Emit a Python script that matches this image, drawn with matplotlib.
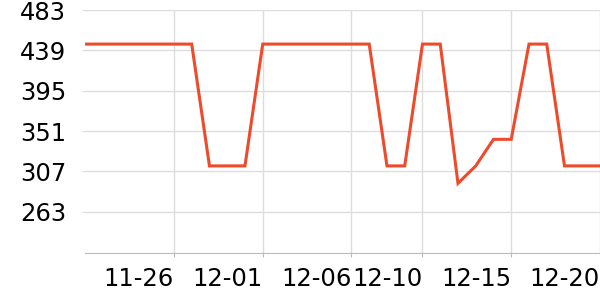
import matplotlib
matplotlib.use("Agg")
import matplotlib.pyplot as plt
import pandas as pd

# daily values 11-21 .. 12-20
dates = pd.date_range("2023-11-21", "2023-12-20", freq="D")
values = [446, 446, 446, 446, 446, 446, 446, 313, 313, 313,
          446, 446, 446, 446, 446, 446, 446, 313, 313, 446,
          446, 294, 313, 342, 342, 446, 446, 313, 313, 313]
tick_dates = ["2023-11-26", "2023-12-01", "2023-12-06", "2023-12-10", "2023-12-15", "2023-12-20"]
y_ticks = [263, 307, 351, 395, 439, 483]

fig = plt.figure(figsize=(6, 3), dpi=100)
ax = fig.add_axes([0.142, 0.157, 0.858, 0.809])

ax.plot(dates, values, color="#ee4a2c", linewidth=2.2, solid_joinstyle="miter")

ax.set_xlim(dates[0], dates[-1])
ax.set_ylim(218, 483)
ax.set_yticks(y_ticks)
ax.set_xticks(pd.to_datetime(tick_dates))
ax.set_xticklabels([d[5:] for d in tick_dates], ha="right")

ax.grid(True, color="#dddddd", linewidth=1)
ax.set_axisbelow(True)
for s in ["top", "right", "left"]:
    ax.spines[s].set_visible(False)
ax.spines["bottom"].set_color("#bbbbbb")
ax.tick_params(axis="y", length=2, color="#dddddd", labelsize=17.5, pad=11.5)
ax.tick_params(axis="x", length=3, color="#bbbbbb", labelsize=17.5, pad=7)

fig.savefig("out.png", dpi=100)
